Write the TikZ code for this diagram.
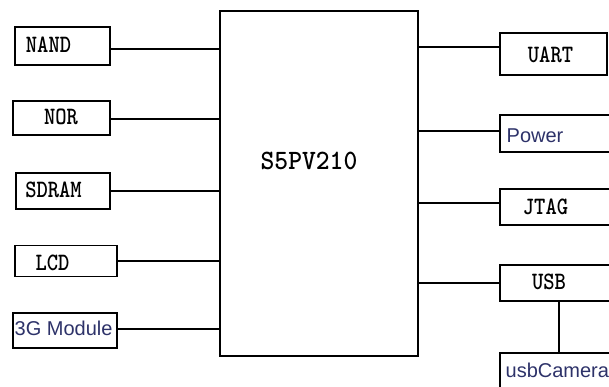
\documentclass[tikz,border=0pt]{standalone}
\usepackage{fontspec}
\usepackage{graphicx}
\newfontfamily\armsans{Liberation Sans}
\usetikzlibrary{positioning}
\definecolor{lbltext}{RGB}{45,50,105}
\newcommand{\narrowtxt}[1]{\scalebox{0.86}[1]{#1}}

\begin{document}
\begin{tikzpicture}[x=1pt,y=-1pt,line width=1.3pt,
  blk/.style={draw,rectangle,inner sep=0pt},
  monolbl/.style={font=\ttfamily\bfseries\fontsize{25}{28}\selectfont,inner sep=0pt},
  sanslbl/.style={font=\armsans\fontsize{20}{24}\selectfont,text=lbltext,inner sep=1pt,anchor=base west}]
\useasboundingbox (0,0) rectangle (609,387);
\clip (0,0) rectangle (609,387);
% processor
\node[blk,minimum width=198,minimum height=345] (cpu) at (319,183.5) {};
\node[font=\ttfamily\bfseries\fontsize{28}{32}\selectfont,inner sep=0pt] (cpulbl) at (309,161) {\scalebox{0.94}[1]{S5PV210}};
% left side
\node[blk,minimum width=95,minimum height=38] (nand) at (62.5,46) {};
\node[monolbl] (nandlbl) at (48.5,44.5) {\narrowtxt{NAND}};
\node[blk,minimum width=97,minimum height=34] (nor) at (61.5,118) {};
\node[monolbl] (norlbl) at (61,117) {\narrowtxt{NOR}};
\node[blk,minimum width=94,minimum height=36] (sdram) at (63,191) {};
\node[monolbl] (sdramlbl) at (53.5,190) {\narrowtxt{SDRAM}};
\node[blk,minimum width=102,minimum height=31] (lcd) at (66,261) {};
\node[monolbl] (lcdlbl) at (52.5,262.5) {\narrowtxt{LCD}};
\node[blk,minimum width=104,minimum height=35] (gmod) at (65,330.5) {};
\node[sanslbl,fill=white] (gmodlbl) at (13,335.5) {3G Module};
% right side
\node[blk,minimum width=107,minimum height=42] (uart) at (553.5,54) {};
\node[monolbl] (uartlbl) at (550.5,54.5) {\narrowtxt{UART}};
\node[blk,minimum width=118,minimum height=37] (power) at (559,133.5) {};
\node[sanslbl] (powerlbl) at (505,142.3) {Power};
\node[blk,minimum width=118,minimum height=36] (jtag) at (559,207) {};
\node[monolbl] (jtaglbl) at (545.5,206.5) {\narrowtxt{JTAG}};
\node[blk,minimum width=118,minimum height=36] (usb) at (559,283) {};
\node[monolbl] (usblbl) at (549,282) {\narrowtxt{USB}};
\node[blk,minimum width=118,minimum height=47] (cam) at (559,376.5) {};
\node[sanslbl] (camlbl) at (504,377.3) {usbCamera};

% connectors
\coordinate (nandc) at ([yshift=-3pt]nand.east);
\draw (nandc) -- (nandc -| cpu.west);
\coordinate (norc) at ([yshift=-1pt]nor.east);
\draw (norc) -- (norc -| cpu.west);
\draw (sdram.east) -- (sdram.east -| cpu.west);
\draw (lcd.east) -- (lcd.east -| cpu.west);
\coordinate (gmodc) at ([yshift=1.5pt]gmod.east);
\draw (gmodc) -- (gmodc -| cpu.west);
\coordinate (uartc) at ([yshift=7pt]uart.west);
\draw (uartc) -- (uartc -| cpu.east);
\coordinate (powerc) at ([yshift=2.5pt]power.west);
\draw (powerc) -- (powerc -| cpu.east);
\coordinate (jtagc) at ([yshift=4pt]jtag.west);
\draw (jtagc) -- (jtagc -| cpu.east);
\draw (usb.west) -- (usb.west -| cpu.east);
\draw (usb.south) -- (cam.north);

\end{tikzpicture}
\end{document}
